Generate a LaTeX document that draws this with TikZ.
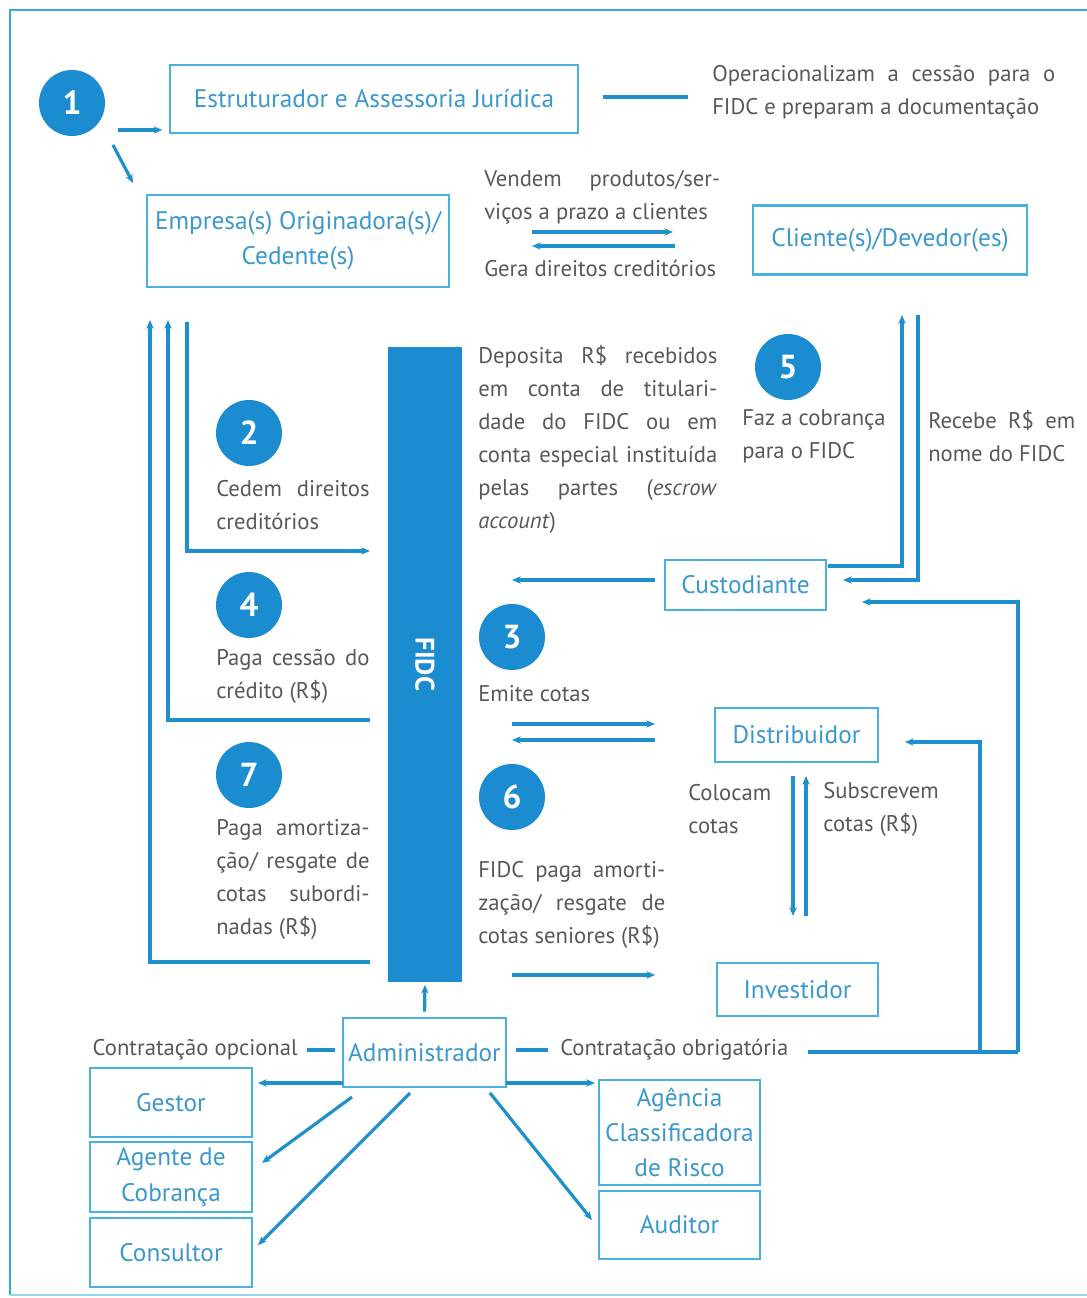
\documentclass[tikz,border=0pt]{standalone}
\usepackage{fontspec}
\setmainfont{PT Sans}
\usetikzlibrary{arrows.meta}

\definecolor{lineblue}{HTML}{1E90CC}
\definecolor{boxblue}{HTML}{4AB0DC}
\definecolor{txtblue}{HTML}{3A98CC}
\definecolor{numblue}{HTML}{1A8CCF}
\definecolor{txtgray}{HTML}{585858}
\definecolor{framecol}{HTML}{3AA6DA}
\definecolor{framelow}{HTML}{8FD9EA}

\begin{document}
\begin{tikzpicture}[x=0.75pt,y=-0.75pt,>={Stealth[length=6.5pt,width=5.5pt]},
  box/.style={draw=boxblue,line width=1.6pt,text=txtblue,align=center,inner sep=0pt,
    font=\fontsize{19}{26.5}\selectfont},
  num/.style={circle,fill=numblue,text=white,inner sep=0pt,minimum size=49.5pt,
    font=\fontsize{25}{25}\selectfont\bfseries},
  note/.style={text=txtgray,align=left,inner sep=0pt,anchor=west,
    font=\fontsize{17}{24.75}\selectfont},
  just/.style={note,align=justify},
  flow/.style={draw=lineblue,line width=2.4pt,->},
  link/.style={draw=lineblue,line width=2.4pt}]
  \useasboundingbox (0,0) rectangle (1087,1298);
  % moldura
  \draw[framecol,line width=2pt] (10,1295) -- (10,10) -- (1087,10);
  \draw[framelow,line width=2pt] (10,1295) -- (1087,1295);

  % caixas
  \node[box,minimum width=306pt,minimum height=51pt] (estr) at (374,99) {Estruturador e Assessoria Jurídica};
  \node[box,minimum width=226.5pt,minimum height=69pt] (emp) at (298,241) {Empresa(s) Originadora(s)/\\Cedente(s)};
  \node[box,minimum width=205.5pt,minimum height=51.75pt] (cli) at (890,240) {Cliente(s)/Devedor(es)};
  \node[box,minimum width=120.75pt,minimum height=37.5pt] (cust) at (745.5,585) {Custodiante};
  \node[box,minimum width=122.25pt,minimum height=40.5pt] (dist) at (796.5,735) {Distribuidor};
  \node[box,minimum width=120.75pt,minimum height=39.75pt] (inv) at (797.5,989.5) {Investidor};
  \node[box,minimum width=122.25pt,minimum height=51.75pt] (adm) at (424.5,1052.5) {Administrador};
  \node[box,minimum width=121.5pt,minimum height=51.75pt] (gest) at (171,1102.5) {Gestor};
  \node[box,minimum width=121.5pt,minimum height=52.5pt] (agen) at (171,1177) {Agente de\\Cobrança};
  \node[box,minimum width=121.5pt,minimum height=51.75pt] (cons) at (171,1252.5) {Consultor};
  \node[box,minimum width=120.75pt,minimum height=78.75pt] (agcr) at (679.5,1132.5) {Agência\\Classificadora\\de Risco};
  \node[box,minimum width=120.75pt,minimum height=51pt] (aud) at (679.5,1225) {Auditor};

  % barra do FIDC
  \node[fill=numblue,minimum width=55.5pt,minimum height=476.25pt,inner sep=0pt,
    label={[rotate=-90,text=white,font=\fontsize{20}{20}\selectfont\bfseries]center:FIDC}] (fidc) at (425,664.5) {};

  % etapas
  \node[num] (n1) at (72,103) {1};
  \node[num] (n2) at (249,433) {2};
  \node[num] (n3) at (512,637) {3};
  \node[num] (n4) at (249,605) {4};
  \node[num] (n5) at (788,367) {5};
  \node[num] (n6) at (512,797) {6};
  \node[num] (n7) at (249,775) {7};

  % textos
  \node[just,text width=257.25pt] (oper) at (712,92.5) {Operacionalizam a cessão para o\linebreak FIDC e preparam a documentação};
  \node[just,text width=177pt] (vend) at (484,197.5) {Vendem produtos/ser-\linebreak viços a prazo a clientes};
  \node[note] (gera) at (484,268) {Gera direitos creditórios};
  \node[just,text width=115pt] (cede) at (216,505.5) {Cedem direitos\linebreak creditórios};
  \node[just,text width=115pt] (pgce) at (216,676) {Paga cessão do\linebreak crédito (R\$)};
  \node[just,text width=115pt] (pgam) at (216,879.5) {Paga amortiza-\linebreak ção/ resgate de\linebreak cotas subordi-\linebreak nadas (R\$)};
  \node[just,text width=179.25pt] (depo) at (478,439.5) {Deposita R\$ recebidos\linebreak em conta de titulari-\linebreak dade do FIDC ou em\linebreak conta especial instituída\linebreak pelas partes (\textit{escrow}\linebreak \textit{account})};
  \node[note] (cobr) at (742,436) {Faz a cobrança\\para o FIDC};
  \node[just,text width=110.25pt] (rece) at (928,436) {Recebe R\$ em\linebreak nome do FIDC};
  \node[note] (emit) at (478,694) {Emite cotas};
  \node[note] (colo) at (688,809) {Colocam\\cotas};
  \node[note] (subs) at (823,809) {Subscrevem\\cotas (R\$)};
  \node[just,text width=140.25pt] (fpag) at (478,904.5) {FIDC paga amorti-\linebreak zação/ resgate de\linebreak cotas seniores (R\$)};
  \node[note,anchor=east] (opc) at (298,1050) {Contratação opcional};
  \node[note] (obr) at (560,1050) {Contratação obrigatória};

  % pontos livres dos conectores
  \foreach \n/\px/\py in {oa/118/130, ob/113/145, oc/133/183, ea/603/97, eb/688/97,
      va/532/232, vb/673/232, ga/675/246, gb/532/246,
      da/187/322, db/187/551, dc/370/551,
      pa/370/720, pb/168/720, pc/168/320,
      ra/370/962, rb/150/962, rc/150/320,
      ca/828/566, cb/902/566, cc/902/315,
      ka/918/315, kb/918/580, kc/843/580,
      ua/655/580, ub/512/580,
      la/1018/1052, lb/1018/602, lc/862/602,
      ma/980/1052, mb/980/742, mc/905/742, na/808/1052,
      ta/512/724, tb/655/724, sa/655/740, sb/512/740,
      qa/793/776, qb/793/916, wa/806/916, wb/806/776,
      ia/512/975, ib/655/975,
      xa/307/1050, xb/335/1050, ya/516/1050, yb/548/1050,
      ja/343/1083, jb/258/1083, aa/352/1097, ab/262/1163,
      sc/410/1093, sd/258/1245, za/506/1083, zb/595/1083,
      ha/490/1093, hb/592/1220}
    \coordinate (\n) at (\px,\py);

  % conectores
  \draw[flow,shorten >=5pt] (oa) -- (oa -| estr.west);
  \draw[flow] (ob) -- (oc);
  \draw[link] (ea) -- (eb);
  \draw[flow] (va) -- (vb);
  \draw[flow] (ga) -- (gb);
  \draw[flow] (da) -- (db) -- (dc);
  \draw[flow] (pa) -- (pb) -- (pc);
  \draw[flow] (ra) -- (rb) -- (rc);
  \draw[flow] (ca) -- (cb) -- (cc);
  \draw[flow] (ka) -- (kb) -- (kc);
  \draw[flow] (ua) -- (ub);
  \draw[flow] (la) -- (lb) -- (lc);
  \draw[flow] (ma) -- (mb) -- (mc);
  \draw[link] (na) -- (la);
  \draw[flow] (ta) -- (tb);
  \draw[flow] (sa) -- (sb);
  \draw[flow] (qa) -- (qb);
  \draw[flow] (wa) -- (wb);
  \draw[flow] (ia) -- (ib);
  \draw[flow,shorten <=4pt,shorten >=2pt] (adm.north) -- (fidc.south);
  \draw[link] (xa) -- (xb);
  \draw[link] (ya) -- (yb);
  \draw[flow] (ja) -- (jb);
  \draw[flow] (aa) -- (ab);
  \draw[flow] (sc) -- (sd);
  \draw[flow] (za) -- (zb);
  \draw[flow] (ha) -- (hb);
\end{tikzpicture}
\end{document}
